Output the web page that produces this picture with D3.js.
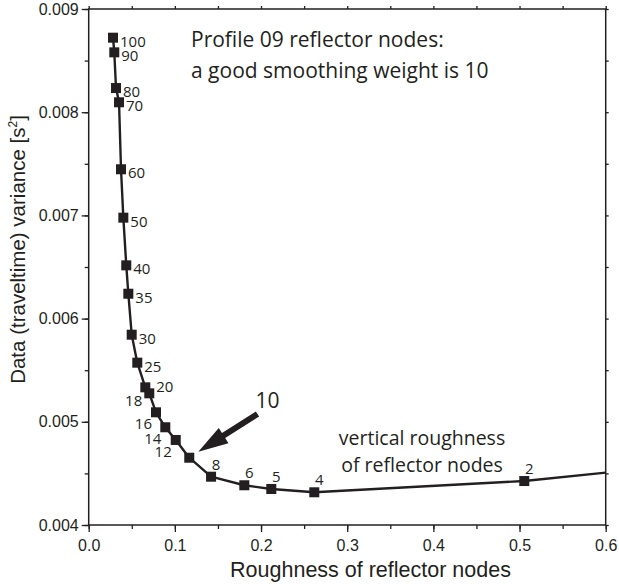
<!DOCTYPE html>
<html>
<head>
<meta charset="utf-8">
<script src="https://cdn.jsdelivr.net/npm/d3@7"></script>
<style>
  body { margin: 0; background: #fff; }
  svg { display: block; }
</style>
</head>
<body>
<script>
// smoothing weights and the resulting roughness / data variance
var weights = [100, 90, 80, 70, 60, 50, 40, 35, 30, 25, 20, 18, 16, 14, 12, 10, 8, 6, 5, 4, 2];
var roughness = [0.0282, 0.0297, 0.0317, 0.0352, 0.0375, 0.0402, 0.0436, 0.0460, 0.0499, 0.0564,
                 0.0657, 0.0703, 0.0781, 0.0889, 0.1010, 0.1167, 0.1420, 0.1806, 0.2119, 0.2618, 0.5055];
var variance = [0.008722, 0.008580, 0.008234, 0.008096, 0.007447, 0.006978, 0.006516, 0.006241, 0.005844, 0.005573,
                0.005334, 0.005276, 0.005092, 0.004947, 0.004824, 0.004652, 0.004468, 0.004385, 0.004349, 0.004317, 0.004426];
// curve keeps going past the frame (weight 1)
var tailRoughness = [0.6];
var tailVariance = [0.004507];

var xTicks = [0, 0.1, 0.2, 0.3, 0.4, 0.5, 0.6];
var yTicks = [0.004, 0.005, 0.006, 0.007, 0.008, 0.009];

(function () {
    var width = 619,
        height = 584,
        pl = 88.7, pr = 605.7, pt = 9, pb = 525;

    var svg = d3.select('body').append('svg')
        .attr('width', width)
        .attr('height', height);

    var x = d3.scaleLinear().domain([0, 0.6]).range([pl, pr]);
    var y = d3.scaleLinear().domain([0.004, 0.009]).range([pb, pt]);

    var tickFont = '"Liberation Sans", Arial, sans-serif',
        noteFont = '"Open Sans", "Noto Sans", sans-serif',
        ink = '#231f20';

    function minor(scale, step) {
        var d = scale.domain(), out = [];
        for (var v = d[0]; v <= d[1] + step / 2; v += step) out.push(+v.toFixed(6));
        return out;
    }

    function styleAxis(g) {
        g.select('.domain').remove();
        g.selectAll('line').attr('stroke', ink).attr('stroke-width', 1.3);
        g.selectAll('text').attr('fill', ink).attr('font-family', tickFont).attr('font-size', 16);
    }

    // minor ticks, all four sides
    svg.append('g').attr('transform', 'translate(0,' + pb + ')')
        .call(d3.axisBottom(x).tickValues(minor(x, 0.05)).tickSize(4).tickFormat(''))
        .call(styleAxis);
    svg.append('g').attr('transform', 'translate(0,' + pt + ')')
        .call(d3.axisTop(x).tickValues(minor(x, 0.05)).tickSize(3).tickFormat(''))
        .call(styleAxis);
    svg.append('g').attr('transform', 'translate(' + pl + ',0)')
        .call(d3.axisLeft(y).tickValues(minor(y, 0.0005)).tickSize(4).tickFormat(''))
        .call(styleAxis);
    svg.append('g').attr('transform', 'translate(' + pr + ',0)')
        .call(d3.axisRight(y).tickValues(minor(y, 0.0005)).tickSize(3).tickFormat(''))
        .call(styleAxis);

    // major ticks with labels
    svg.append('g').attr('transform', 'translate(0,' + pb + ')')
        .call(d3.axisBottom(x).tickValues(xTicks).tickSize(7).tickPadding(8).tickFormat(d3.format('.1f')))
        .call(styleAxis);
    svg.append('g').attr('transform', 'translate(' + pl + ',0)')
        .call(d3.axisLeft(y).tickValues(yTicks).tickSize(7).tickPadding(3).tickFormat(d3.format('.3f')))
        .call(styleAxis);

    // frame
    svg.append('rect')
        .attr('x', pl).attr('y', pt)
        .attr('width', pr - pl).attr('height', pb - pt)
        .attr('fill', 'none').attr('stroke', ink).attr('stroke-width', 1.5);

    // axis titles
    svg.append('text')
        .attr('x', 370.5).attr('y', 576.7)
        .attr('text-anchor', 'middle')
        .attr('font-family', tickFont).attr('font-size', 21.5).attr('fill', ink)
        .text('Roughness of reflector nodes');

    var yt = svg.append('text')
        .attr('transform', 'translate(24.5,249.5) rotate(-90)')
        .attr('text-anchor', 'middle')
        .attr('font-family', tickFont).attr('font-size', 20.5).attr('fill', ink);
    yt.append('tspan').text('Data (traveltime) variance [s');
    yt.append('tspan').attr('dy', -8).attr('font-size', 12).text('2');
    yt.append('tspan').attr('dy', 8).text(']');

    // curve
    var pts = weights.map(function (w, i) {
        return { w: w, x: roughness[i], y: variance[i] };
    });
    var linePts = pts.concat(tailRoughness.map(function (r, i) {
        return { x: r, y: tailVariance[i] };
    }));

    svg.append('defs').append('clipPath').attr('id', 'plot')
        .append('rect').attr('x', pl).attr('y', pt)
        .attr('width', pr - pl).attr('height', pb - pt);

    svg.append('path')
        .datum(linePts)
        .attr('clip-path', 'url(#plot)')
        .attr('fill', 'none')
        .attr('stroke', ink)
        .attr('stroke-width', 2.4)
        .attr('stroke-linejoin', 'round')
        .attr('d', d3.line().x(function (d) { return x(d.x); }).y(function (d) { return y(d.y); }));

    var sq = 10;
    svg.selectAll('rect.node').data(pts).enter().append('rect')
        .attr('class', 'node')
        .attr('x', function (d) { return x(d.x) - sq / 2; })
        .attr('y', function (d) { return y(d.y) - sq / 2; })
        .attr('width', sq).attr('height', sq)
        .attr('fill', ink);

    // where each weight label sits relative to its square
    var leftLabels = [18, 16, 14, 12],
        aboveLabels = [8, 6, 5, 4, 2],
        noLabel = [10];

    function place(w) {
        if (w === 20) return { dx: 11, dy: 4.5, anchor: 'start' };
        if (w === 18) return { dx: -7, dy: 13, anchor: 'end' };
        if (leftLabels.indexOf(w) >= 0) return { dx: -4, dy: 17, anchor: 'end' };
        if (aboveLabels.indexOf(w) >= 0) return { dx: 5, dy: -7, anchor: 'middle' };
        return { dx: 7, dy: 9, anchor: 'start' };
    }

    svg.selectAll('text.wlab').data(pts.filter(function (d) { return noLabel.indexOf(d.w) < 0; }))
        .enter().append('text')
        .attr('class', 'wlab')
        .attr('x', function (d) { return x(d.x) + place(d.w).dx; })
        .attr('y', function (d) { return y(d.y) + place(d.w).dy; })
        .attr('text-anchor', function (d) { return place(d.w).anchor; })
        .attr('font-family', noteFont).attr('font-size', 15).attr('fill', ink)
        .text(function (d) { return d.w; });

    // arrow pointing at weight 10
    var arrowTail = [0.1959, 0.005076],
        arrowTip = [0.1272, 0.004710];
    var x0 = x(arrowTail[0]), y0 = y(arrowTail[1]),
        x1 = x(arrowTip[0]), y1 = y(arrowTip[1]);
    var ang = Math.atan2(y1 - y0, x1 - x0),
        headLen = 30, headHalf = 9, shaft = 3;
    var bx = x1 - headLen * Math.cos(ang), by = y1 - headLen * Math.sin(ang),
        px = -Math.sin(ang), py = Math.cos(ang);
    svg.append('path')
        .attr('fill', ink)
        .attr('d', 'M' + (x0 + px * shaft) + ',' + (y0 + py * shaft) +
            'L' + (bx + px * shaft) + ',' + (by + py * shaft) +
            'L' + (bx + px * headHalf) + ',' + (by + py * headHalf) +
            'L' + x1 + ',' + y1 +
            'L' + (bx - px * headHalf) + ',' + (by - py * headHalf) +
            'L' + (bx - px * shaft) + ',' + (by - py * shaft) +
            'L' + (x0 - px * shaft) + ',' + (y0 - py * shaft) + 'Z');

    svg.append('text')
        .attr('x', x(0.1935)).attr('y', y(0.005131))
        .attr('font-family', noteFont).attr('font-size', 21).attr('fill', ink)
        .text('10');

    // notes
    var title = svg.append('text')
        .attr('font-family', noteFont).attr('font-size', 21).attr('fill', ink);
    title.append('tspan').attr('x', 191).attr('y', 47.3).text('Profile 09 reflector nodes:');
    title.append('tspan').attr('x', 191).attr('y', 78.3).text('a good smoothing weight is 10');

    var note = svg.append('text')
        .attr('text-anchor', 'middle')
        .attr('font-family', noteFont).attr('font-size', 19.5).attr('fill', ink);
    note.append('tspan').attr('x', 422).attr('y', 445).text('vertical roughness');
    note.append('tspan').attr('x', 422).attr('y', 471.7).text('of reflector nodes');
}());
</script>
</body>
</html>
